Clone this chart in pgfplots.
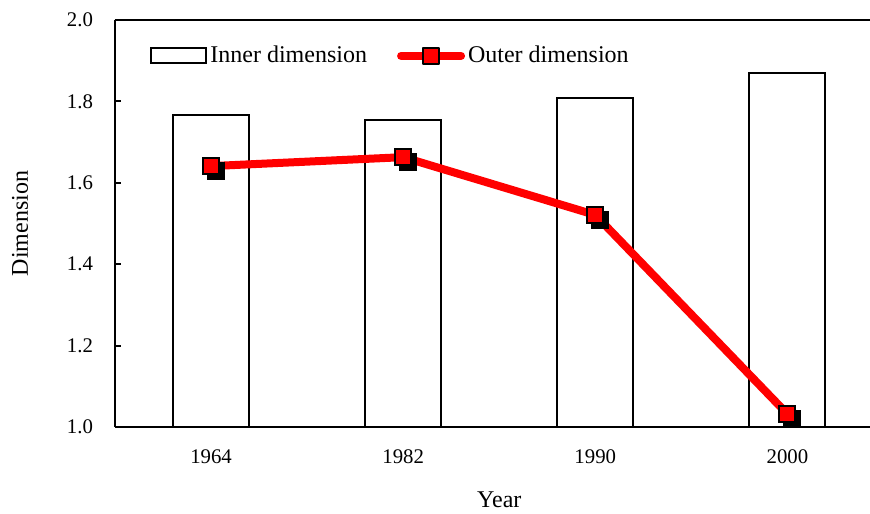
\documentclass[border=0pt]{standalone}
\usepackage{fontspec}
\setmainfont{Liberation Serif}
\usepackage{pgfplots}
\pgfplotsset{compat=1.18}
\definecolor{myred}{RGB}{255,0,0}
\pgfplotsset{
  mybarlegend/.style={legend image code/.code={\draw[draw=black, fill=white, line width=1pt] (0pt,-3.75pt) rectangle (27.5pt,3.75pt);}},
  mylinelegend/.style={legend image code/.code={\draw[mark repeat=2,mark phase=2,##1] plot coordinates {(0pt,0pt)(15pt,0pt)(30pt,0pt)};}},
}
\begin{document}
\begin{tikzpicture}
\begin{axis}[name=ax, scale only axis, width=377.5pt, height=203.5pt,
  xmin=-0.5, xmax=3.43, ymin=1, ymax=2,
  axis x line=box, axis y line=left,
  axis line style={-, line width=1pt, black},
  xtick={0,1,2,3}, xticklabels={1964,1982,1990,2000},
  ytick={1,1.2,1.4,1.6,1.8,2},
  /pgf/number format/assume math mode=true,
  yticklabel style={/pgf/number format/fixed, /pgf/number format/precision=1, /pgf/number format/fixed zerofill, xshift=-7.5pt},
  xticklabel style={yshift=-8pt},
  ticklabel style={font=\fontsize{10.4}{12}\selectfont},
  x tick style={draw=none},
  y tick style={line width=1pt, black},
  tick align=inside, major tick length=3pt,
  xlabel={Year}, ylabel={Dimension},
  every axis x label/.style={at={([yshift=-36.5pt]axis description cs:0.509,0)}, anchor=center, font=\large},
  every axis y label/.style={at={([xshift=-47.5pt]axis description cs:0,0.5)}, anchor=center, rotate=90, font=\large},
  legend columns=2,
  legend style={draw=none, fill=none, inner sep=0pt, font=\large,
    at={(axis description cs:0.0464,0.912)}, anchor=west,
    nodes={inner sep=1.5pt},
    /tikz/every even column/.append style={column sep=13.5pt}},
  legend cell align=left,
]
\addplot[ybar, bar width=38pt, draw=black, fill=white, line width=1pt, mybarlegend]
  coordinates {(0,1.767) (1,1.754) (2,1.808) (3,1.870)};
\addlegendentry{Inner dimension}
\addplot[myred, line width=4pt, line cap=round, line join=round,
  mark=square*, mark size=4pt, mark options={fill=myred, draw=black, line width=1pt},
  mylinelegend]
  coordinates {(0,1.641) (1,1.663) (2,1.521) (3,1.032)};
\addlegendentry{Outer dimension}
\addplot[forget plot, only marks, mark=square*, mark size=4pt, black,
  mark options={fill=black, draw=black, line width=1pt, xshift=2.5pt, yshift=-2.5pt}]
  coordinates {(0,1.641) (1,1.663) (2,1.521) (3,1.032)};
\addplot[forget plot, only marks, mark=square*, mark size=4pt,
  mark options={fill=myred, draw=black, line width=1pt}]
  coordinates {(0,1.641) (1,1.663) (2,1.521) (3,1.032)};
\end{axis}
\pgfresetboundingbox
\path ([xshift=-57.5pt,yshift=-43pt]ax.south west) rectangle ([yshift=10pt]ax.north east);
\end{tikzpicture}
\end{document}
